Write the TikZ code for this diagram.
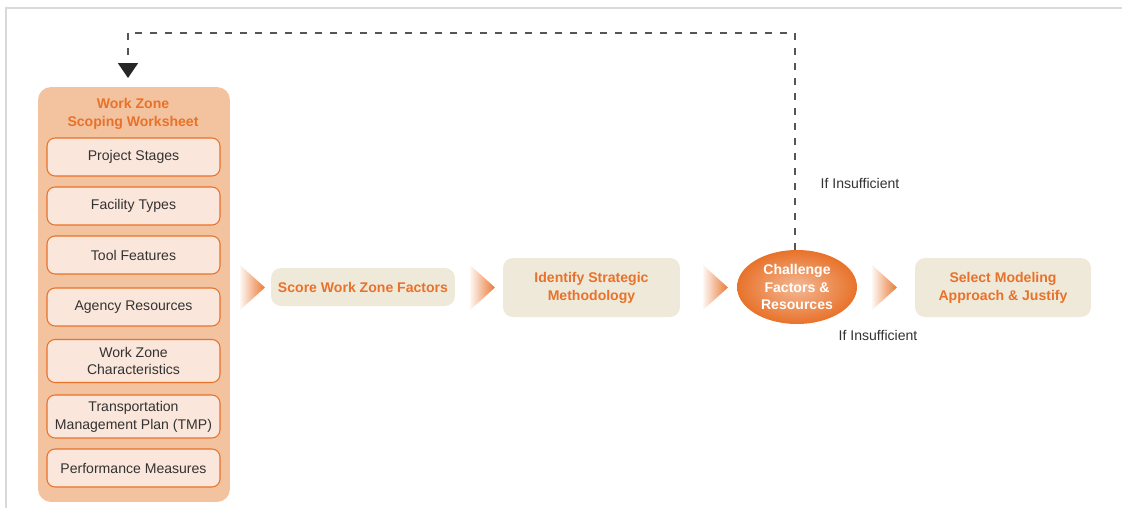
\documentclass[tikz,border=0pt]{standalone}
\usepackage{fontspec}
\setmainfont{Liberation Sans}
\usetikzlibrary{arrows.meta, shapes.geometric}
\definecolor{wzorange}{HTML}{E8722A}
\definecolor{wzpeach}{HTML}{F3C29F}
\definecolor{wzpale}{HTML}{FAE6DA}
\definecolor{wzbeige}{HTML}{EFE9DA}
\definecolor{wzframe}{HTML}{D9D9D9}
\definecolor{wzdash}{HTML}{555555}
\definecolor{wztext}{HTML}{333333}
\tikzset{
  item/.style = {draw = wzorange, fill = wzpale, line width = 0.6pt, rounded corners = 0.16cm,
    minimum width = 3.46cm, minimum height = 0.76cm, align = center, text = wztext},
  stepbox/.style = {fill = wzbeige, rounded corners = 0.2cm, align = center,
    text = wzorange, font = \bfseries},
  chevron/.style = {left color = wzorange!6, right color = wzorange!95}
}
\begin{document}
\fontsize{8}{10.2}\selectfont
\begin{tikzpicture}[x = 0.02cm, y = -0.02cm]
    \useasboundingbox (0,0) rectangle (1122,508);
    \draw [wzframe, line width = 1.1pt] (6,508) -- (6,8) -- (1122,8);
    \node [fill = wzpeach, rounded corners = 0.26cm, minimum width = 3.84cm,
      minimum height = 8.3cm] (ws) at (134,294.5) {};
    \node [text = wzorange, font = \bfseries, align = center] (wstitle) at (133,114)
      {Work Zone\\Scoping Worksheet};
    \node [item] (stages) at (133.5,157) {Project Stages};
    \node [item] (facility) at (133.5,206) {Facility Types};
    \node [item] (tool) at (133.5,255) {Tool Features};
    \node [item] (agency) at (133.5,307) {Agency Resources};
    \node [item, minimum height = 0.86cm] (wzchar) at (133.5,361)
      {Work Zone\\Characteristics};
    \node [item, minimum height = 0.86cm] (tmp) at (133.5,416.5)
      {Transportation\\Management Plan (TMP)};
    \node [item] (perf) at (133.5,468) {Performance Measures};
    \node [stepbox, minimum width = 3.68cm, minimum height = 0.76cm] (score) at (363,287)
      {Score Work Zone Factors};
    \node [stepbox, minimum width = 3.54cm, minimum height = 1.18cm] (ident) at (591.5,287.5)
      {Identify Strategic\\Methodology};
    \node [ellipse, minimum width = 2.4cm, minimum height = 1.48cm, inner color = wzorange!50,
      outer color = wzorange, text = white, font = \bfseries, align = center,
      inner sep = 0pt] (chal) at (797,287) {Challenge\\Factors \&\\Resources};
    \node [stepbox, minimum width = 3.52cm, minimum height = 1.18cm] (select) at (1003,287.5)
      {Select Modeling\\Approach \& Justify};
    \shade [chevron] (240,265) -- (265,287.5) -- (240,310) -- cycle;
    \shade [chevron] (470,265) -- (495,287.5) -- (470,310) -- cycle;
    \shade [chevron] (703,265) -- (728,287.5) -- (703,310) -- cycle;
    \shade [chevron] (872,265) -- (897,287.5) -- (872,310) -- cycle;
    \coordinate (loop) at (128,78);
    \draw [wzdash, line width = 1pt, dash pattern = on 0.14cm off 0.16cm,
      -{Triangle[width = 0.4cm, length = 0.3cm, color = black!85]}]
      ([xshift = -0.04cm]chal.north) -- ++(0,-217) -| (loop);
    \node [text = wztext] (ins1) at (860,183) {If Insufficient};
    \node [text = wztext] (ins2) at (878,335) {If Insufficient};
\end{tikzpicture}
\end{document}
